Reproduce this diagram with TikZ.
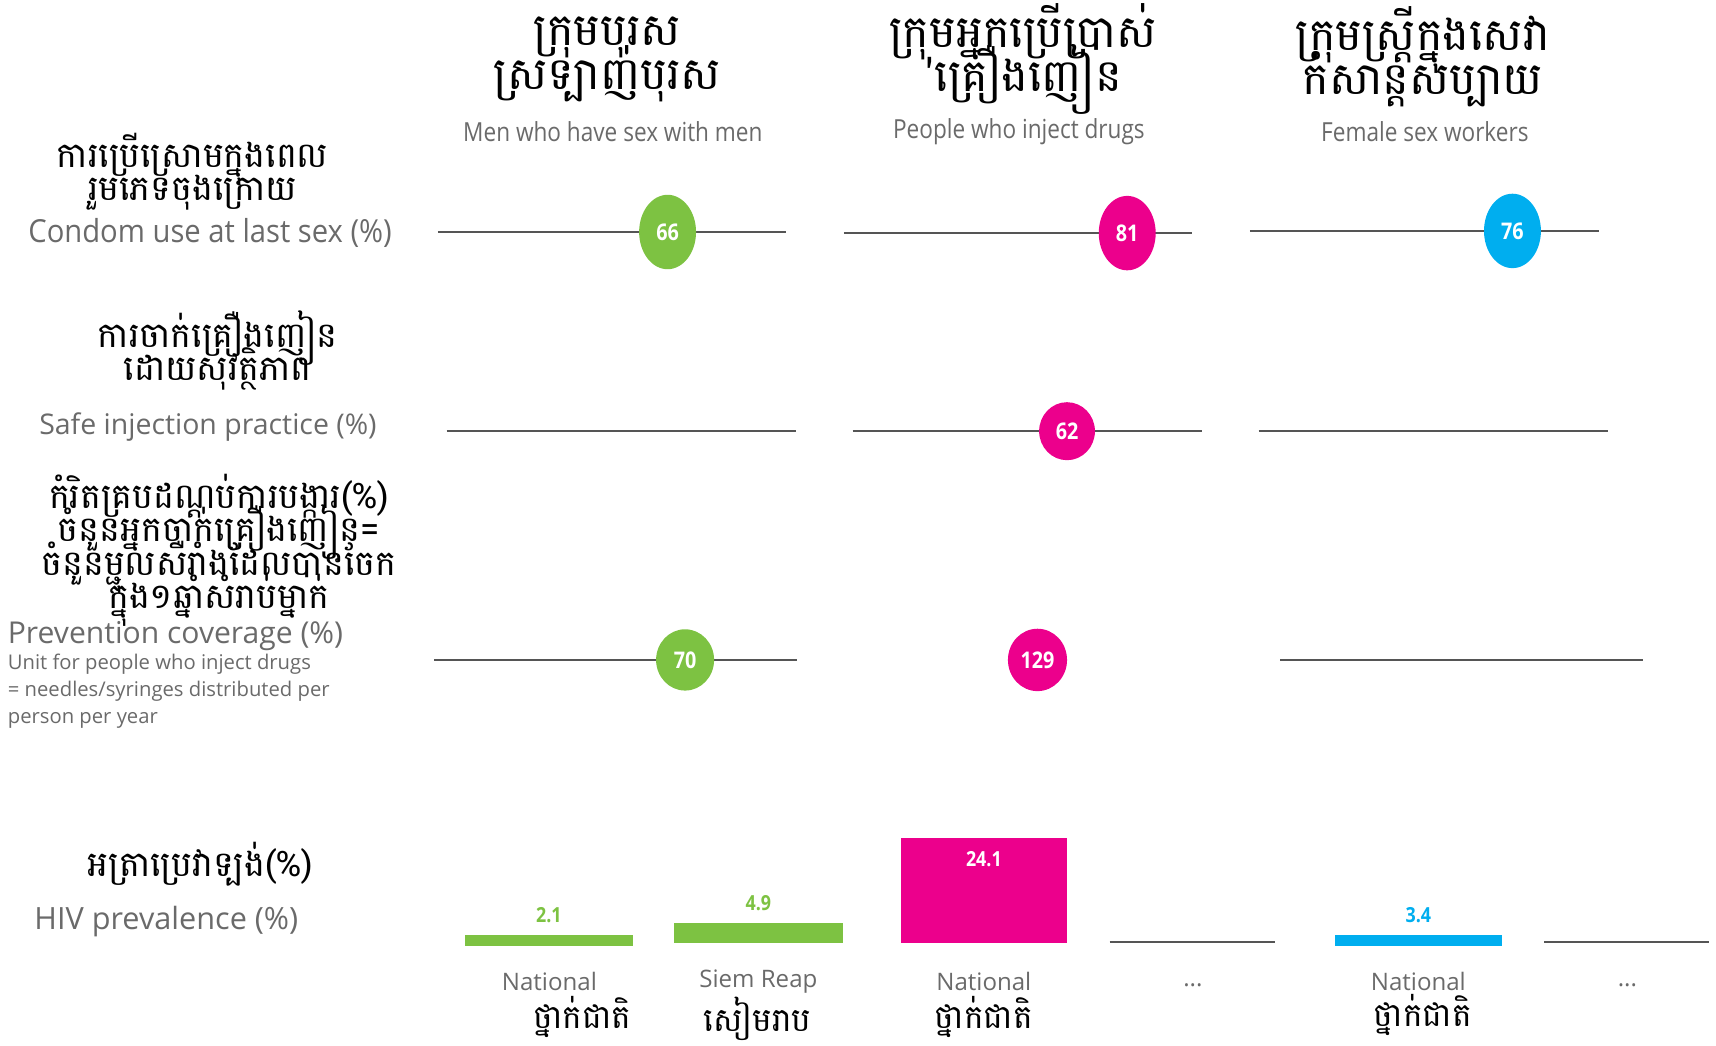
\documentclass[tikz,border=0pt]{standalone}
\usepackage{fontspec}
\setmainfont{Open Sans}
\newfontfamily\khmerfont[Script=Khmer]{Battambang}
\newfontfamily\narrowfont[FakeStretch=0.86]{Open Sans}
\newfontfamily\condfont[FakeStretch=0.92]{Open Sans}
\newcommand\tightkh{\lineskiplimit=-60pt\relax}
\usepackage{tikz}
\usetikzlibrary{shapes.geometric, positioning}
\definecolor{msmgreen}{HTML}{7DC242}
\definecolor{pwidpink}{HTML}{EC008C}
\definecolor{fswblue}{HTML}{00AEEF}
\definecolor{labelgray}{HTML}{6A6A6A}
\definecolor{linegray}{HTML}{555555}

\begin{document}
\begin{tikzpicture}[x=1pt, y=-1pt,
	khhead/.style={font=\khmerfont\fontsize{41}{40}\selectfont\tightkh, align=center, inner sep=0},
	khrow/.style={font=\khmerfont\fontsize{32}{30.5}\selectfont\tightkh, align=center, inner sep=0},
	enhead/.style={font=\narrowfont\fontsize{24}{28}\selectfont, text=labelgray, inner sep=0},
	enrow/.style={font=\fontsize{26}{30}\selectfont, text=labelgray, inner sep=0},
	axis/.style={draw=linegray, line width=2pt},
	dot/.style={shape=ellipse, inner sep=0, text=white, font=\narrowfont\bfseries\fontsize{21}{24}\selectfont},
	bar/.style={inner sep=0, outer sep=0, anchor=south},
	value/.style={font=\narrowfont\bfseries\fontsize{19}{22}\selectfont, inner sep=0},
	place/.style={font=\fontsize{22}{26}\selectfont, text=labelgray, inner sep=0},
	khplace/.style={font=\khmerfont\fontsize{30}{34}\selectfont, inner sep=0}]

	\useasboundingbox (0, 0) rectangle (1568, 955);

	\node[khhead] (msmkh) at (555, 54) {ក្រុមបុរស\\ស្រទ្បាញ់បុរស};
	\node[enhead] (msm) at (560, 120) {Men who have sex with men};
	\node[khhead] (pwidkh) at (935, 54) {ក្រុមអ្នកប្រើប្រាស់\\'គ្រឿងញៀន};
	\node[enhead] (pwid) at (931, 120) {People who inject drugs};
	\node[khhead] (fswkh) at (1300, 52) {ក្រុមស្ត្រីក្នុងសេវា\\កំសាន្តសប្បាយ};
	\node[enhead] (fsw) at (1302, 120) {Female sex workers};

	\node[khrow] (condomkh) at (176, 157) {ការប្រើស្រោមក្នុងពេល\\រួមភេទចុងក្រោយ};
	\node[enrow, font=\condfont\fontsize{29}{32}\selectfont] (condom) at (192, 213) {Condom use at last sex (\%)};
	\node[khrow] (safekh) at (199, 320) {ការចាក់គ្រឿងញៀន\\ដោយសុវត្ថិភាព};
	\node[enrow] (safe) at (190, 390) {Safe injection practice (\%)};
	\node[khrow] (covkh) at (200, 503) {កំរិតគ្របដណ្តប់ការបង្ការ(\%)\\ចំនួនអ្នកចាក់គ្រឿងញៀន=\\ចំនួនម្ជុលសឺរាំងដែលបានចែក\\ក្នុង១ឆ្នាំសំរាប់ម្នាក់};
	\node[enrow, font=\fontsize{27.5}{30}\selectfont, anchor=west] (cov) at (7, 581) {Prevention coverage (\%)};
	\node[enrow, font=\fontsize{18.5}{25}\selectfont, align=left, anchor=north west] (covunit) at (7, 597) {Unit for people who inject drugs\\= needles/syringes distributed per\\person per year};
	\node[khrow] (hivkh) at (183, 790) {អត្រាប្រេវាទ្បង់(\%)};
	\node[enrow, font=\fontsize{28}{32}\selectfont] (hiv) at (152, 842) {HIV prevalence (\%)};

	\coordinate (c1a) at (400, 212);
	\coordinate (c1b) at (718, 212);
	\coordinate (c2a) at (771, 213);
	\coordinate (c2b) at (1089, 213);
	\coordinate (c3a) at (1142, 211);
	\coordinate (c3b) at (1461, 211);
	\draw[axis] (c1a) -- (c1b);
	\draw[axis] (c2a) -- (c2b);
	\draw[axis] (c3a) -- (c3b);
	\node[dot, fill=msmgreen, minimum width=52, minimum height=68] (condommsm) at (610, 212) {66};
	\node[dot, fill=pwidpink, minimum width=52, minimum height=68] (condompwid) at (1030, 213) {81};
	\node[dot, fill=fswblue, minimum width=52, minimum height=68] (condomfsw) at (1382, 211) {76};

	\coordinate (s1a) at (408, 394);
	\coordinate (s1b) at (727, 394);
	\coordinate (s2a) at (779, 394);
	\coordinate (s2b) at (1098, 394);
	\coordinate (s3a) at (1150, 394);
	\coordinate (s3b) at (1469, 394);
	\draw[axis] (s1a) -- (s1b);
	\draw[axis] (s2a) -- (s2b);
	\draw[axis] (s3a) -- (s3b);
	\node[dot, fill=pwidpink, minimum width=51, minimum height=53] (safepwid) at (975, 394) {62};

	\coordinate (p1a) at (397, 603);
	\coordinate (p1b) at (728, 603);
	\coordinate (p3a) at (1170, 603);
	\coordinate (p3b) at (1501, 603);
	\draw[axis] (p1a) -- (p1b);
	\draw[axis] (p3a) -- (p3b);
	\node[dot, fill=msmgreen, minimum width=53, minimum height=56] (covmsm) at (626, 603) {70};
	\node[dot, fill=pwidpink, minimum width=54, minimum height=57] (covpwid) at (948, 603) {129};

	\node[bar, fill=msmgreen, minimum width=153, minimum height=10] (hivmsm) at (501.5, 864) {};
	\node[value, text=msmgreen, above=11pt of hivmsm] (hivmsmval) {2.1};
	\node[bar, fill=msmgreen, minimum width=154, minimum height=19] (hivsr) at (693, 862) {};
	\node[value, text=msmgreen, above=11pt of hivsr] (hivsrval) {4.9};
	\node[bar, fill=pwidpink, minimum width=152, minimum height=96] (hivpwid) at (899, 862) {};
	\node[value, text=white, below=12pt of hivpwid.north] (hivpwidval) {24.1};
	\coordinate (h4a) at (1014, 861);
	\coordinate (h4b) at (1165, 861);
	\draw[axis] (h4a) -- (h4b);
	\node[bar, fill=fswblue, minimum width=152, minimum height=10] (hivfsw) at (1296, 864) {};
	\node[value, text=fswblue, above=11pt of hivfsw] (hivfswval) {3.4};
	\coordinate (h6a) at (1411, 861);
	\coordinate (h6b) at (1562, 861);
	\draw[axis] (h6a) -- (h6b);

	\node[place] (msmnat) at (502, 897) {National};
	\node[khplace] (msmnatkh) at (532, 929) {ថ្នាក់ជាតិ};
	\node[place] (srnat) at (693, 897) {Siem Reap};
	\node[khplace] (srnatkh) at (692, 931) {សៀមរាប};
	\node[place] (pwidnat) at (899, 897) {National};
	\node[khplace] (pwidnatkh) at (899, 929) {ថ្នាក់ជាតិ};
	\node[place] (pwidmore) at (1090, 900) {...};
	\node[place] (fswnat) at (1296, 897) {National};
	\node[khplace] (fswnatkh) at (1300, 927) {ថ្នាក់ជាតិ};
	\node[place] (fswmore) at (1487, 900) {...};
\end{tikzpicture}
\end{document}
